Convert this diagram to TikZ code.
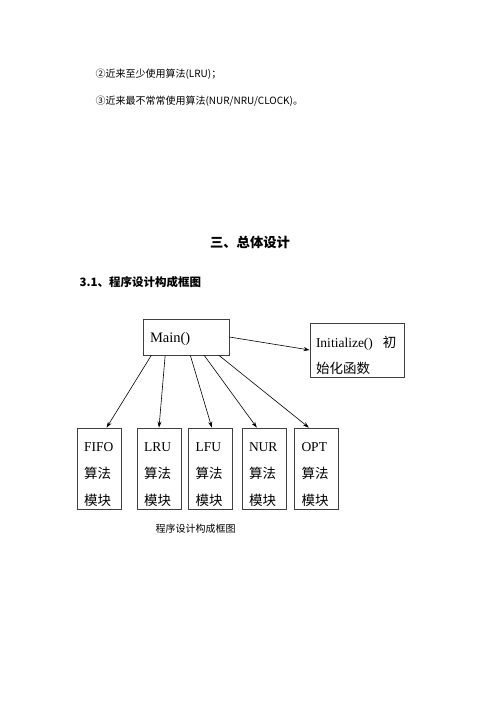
\documentclass[tikz,border=0pt]{standalone}
\usepackage{fontspec}
\setmainfont{Liberation Serif}
\newfontfamily\cjk{Noto Sans CJK SC}
\usetikzlibrary{arrows.meta,calc}
\begin{document}
\begin{tikzpicture}[x=1pt,y=-1pt,
    box/.style={draw=black!75,line width=0.8pt,align=left,inner xsep=7pt,inner ysep=0pt},
    arr/.style={-{Stealth[length=6pt,width=4pt]},line width=0.6pt}]
  \useasboundingbox[fill=white] (0,0) rectangle (500,707);
  \node[anchor=base west,font=\cjk\fontsize{10}{12}\selectfont] (item2) at (92,77) {②近来至少使用算法(LRU)；};
  \node[anchor=base west,font=\cjk\fontsize{10}{12}\selectfont] (item3) at (92,104) {③近来最不常常使用算法(NUR/NRU/CLOCK)。};
  \node[anchor=base,font=\cjk\bfseries\fontsize{13.3}{16}\selectfont] (title) at (250,247) {三、总体设计};
  \node[anchor=base west,font=\cjk\bfseries\fontsize{11.5}{14}\selectfont] (subtitle) at (76,286.5) {3.1、程序设计构成框图};
  \node[box,text width=72pt,minimum height=36pt,font=\fontsize{14.5}{17}\selectfont] (main) at (186,337) {\rule{0pt}{14pt}Main()};
  \node[box,text width=82pt,inner xsep=6pt,minimum height=54pt,font=\fontsize{13.5}{26}\selectfont] (init) at (357,350) {\rule{0pt}{22pt}Initialize()\hspace{10pt}{\cjk 初}\\{\cjk 始化函数}};
  \draw[arr] (main.east) -- (init.west);
  \foreach \n/\lbl/\cx in {fifo/FIFO/99,lru/LRU/159,lfu/LFU/210.5,nur/NUR/264,opt/OPT/316.5}
    \node[box,text width=30pt,minimum height=81pt,font=\fontsize{13.5}{27}\selectfont] (\n) at (\cx,468.5) {\rule{0pt}{22pt}\lbl\\{\cjk 算法}\\{\cjk 模块}};
  \foreach \n/\a/\b in {fifo/0.10/0.67,lru/0.26/0.5,lfu/0.55/0.53,nur/0.71/0.34,opt/0.88/0.33}
    \draw[arr] ($(main.south west)!\a!(main.south east)$) -- ($(\n.north west)!\b!(\n.north east)$);
  \node[anchor=base west,font=\cjk\fontsize{10}{12}\selectfont] (caption) at (152,532) {程序设计构成框图};
\end{tikzpicture}
\end{document}
